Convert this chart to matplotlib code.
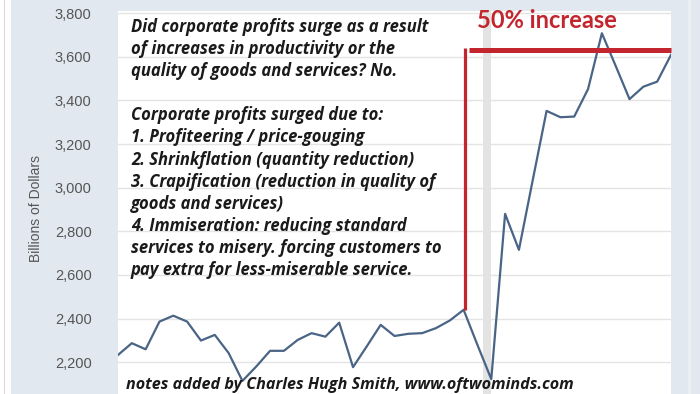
import matplotlib
matplotlib.use('Agg')
import matplotlib.pyplot as plt
from matplotlib.patches import Rectangle

# quarterly corporate profits, billions of dollars
profits = [2233, 2287, 2259, 2386, 2413, 2386, 2299, 2325, 2242, 2114,
           2180, 2252, 2252, 2302, 2333, 2317, 2381, 2177, 2273, 2371,
           2320, 2330, 2333, 2356, 2391, 2440, 2279, 2122, 2880, 2715,
           3035, 3352, 3323, 3326, 3452, 3708, 3558, 3406, 3463, 3486,
           3609]
quarters = list(range(len(profits)))
y_ticks = [2200, 2400, 2600, 2800, 3000, 3200, 3400, 3600, 3800]
y_tick_labels = ['2,200', '2,400', '2,600', '2,800', '3,000', '3,200',
                 '3,400', '3,600', '3,800']
recession = (26.4, 26.96)
marker_quarter = 25
level_after = 3630

note_lines = [
    'Did corporate profits surge as a result',
    'of increases in productivity or the',
    'quality of goods and services? No.',
    '',
    'Corporate profits surged due to:',
    '1. Profiteering / price-gouging',
    '2. Shrinkflation (quantity reduction)',
    '3. Crapification (reduction in quality of',
    'goods and services)',
    '4. Immiseration: reducing standard',
    'services to misery. forcing customers to',
    'pay extra for less-miserable service.',
]
credit = 'notes added by Charles Hugh Smith, www.oftwominds.com'

W, H = 700, 394
bg = '#e1e8f0'
note_font = ['Open Sans', 'DejaVu Sans']
fig = plt.figure(figsize=(W / 100, H / 100), dpi=100, facecolor=bg)

# white margin strip on the left, lighter strip on the right
fig.patches.append(Rectangle((0, 0), 11 / W, 1, transform=fig.transFigure,
                             facecolor='white', edgecolor='none', zorder=0))
fig.patches.append(Rectangle((4 / W, 0), 1 / W, 1, transform=fig.transFigure,
                             facecolor='#d8d8d8', edgecolor='none', zorder=0))
fig.patches.append(Rectangle((688 / W, 0), 3 / W, 1, transform=fig.transFigure,
                             facecolor='#eaeff4', edgecolor='none', zorder=0))

ax = fig.add_axes([118 / W, 0, (671 - 118) / W, 1 - 11 / H])
ax.set_facecolor('white')
for s in ax.spines.values():
    s.set_visible(False)

ax.set_xlim(0, len(profits) - 1)
ax.set_ylim(2054, 3810)
ax.set_yticks(y_ticks)
ax.set_yticklabels(y_tick_labels, fontsize=10.5, color='#555555',
                   family='Liberation Sans')
ax.set_xticks([])
ax.tick_params(axis='y', length=0, pad=19)
ax.grid(axis='y', color='#e4e4e4', linewidth=1)
ax.set_axisbelow(True)

ax.axvspan(recession[0], recession[1], color='#e3e3e3', linewidth=0, zorder=1)
ax.plot(quarters, profits, color='#4a6485', linewidth=1.6, zorder=3)

# red markers
ax.plot([marker_quarter + 0.1, marker_quarter + 0.1],
        [profits[marker_quarter], level_after + 10],
        color='#c3252e', linewidth=2.3, zorder=4, solid_capstyle='butt')
ax.plot([marker_quarter + 0.38, len(profits) - 1], [level_after, level_after],
        color='#c3252e', linewidth=3.6, zorder=4, solid_capstyle='butt',
        clip_on=False)
fig.text(477 / W, 1 - 21 / H, '50% increase', color='#c3252e', fontsize=17,
         fontweight='bold', family=['Lato', 'DejaVu Sans'], va='center',
         ha='left')

ax.set_ylabel('Billions of Dollars', fontsize=10, color='#555555',
              family='Liberation Sans')
ax.yaxis.set_label_coords(-(118 - 43) / (671 - 118), (H - 208) / (H - 11))

y0, pitch = 27, 22.1
for i, line in enumerate(note_lines):
    if line:
        fig.text(131 / W, 1 - (y0 + i * pitch) / H, line, fontsize=12,
                 fontweight='bold', style='italic', family=note_font,
                 va='center', ha='left', color='#1a1a1a')
fig.text(126 / W, 1 - 385 / H, credit, fontsize=11.6, fontweight='bold',
         style='italic', family=note_font, va='center', ha='left',
         color='#1a1a1a')

fig.savefig('out.png', dpi=100, facecolor=bg)
